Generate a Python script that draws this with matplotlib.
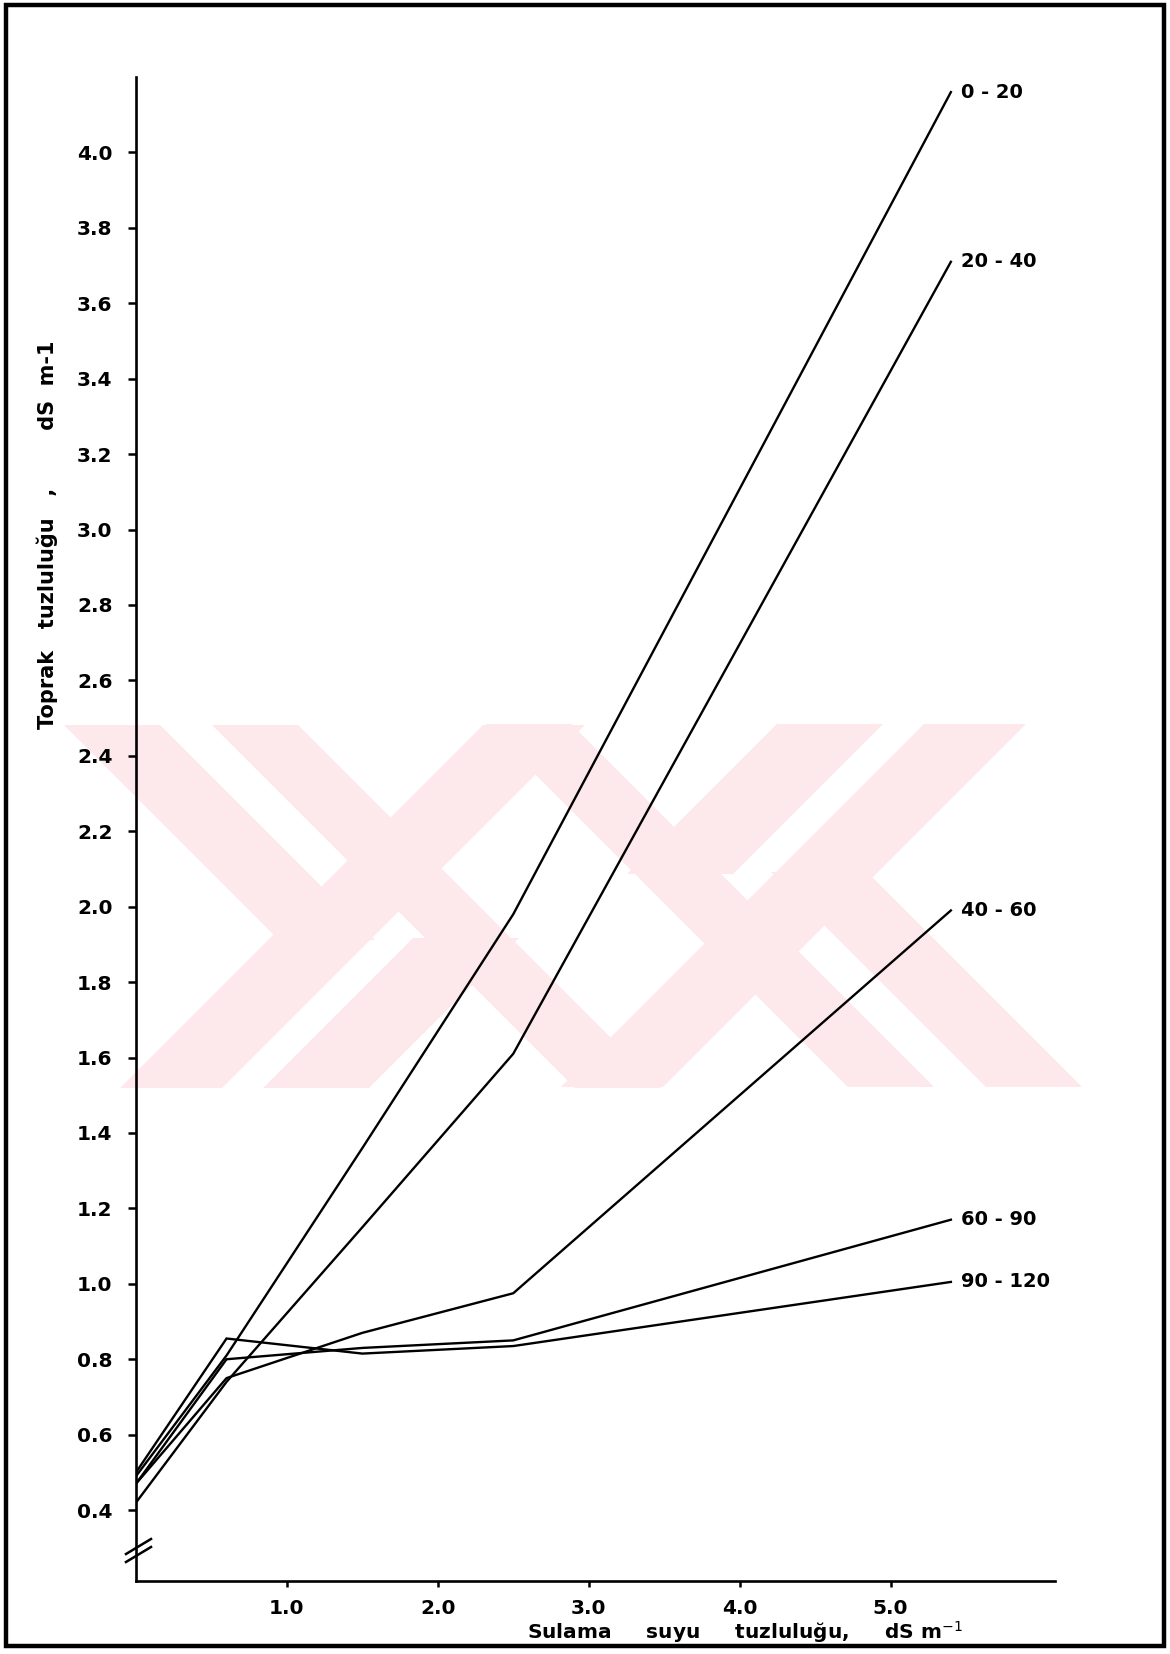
import numpy as np
import matplotlib
matplotlib.use("Agg")
import matplotlib.pyplot as plt
from matplotlib.patches import Polygon, Rectangle

# irrigation water salinity (dS/m) and soil salinity per depth (cm)
x = [0, 0.6, 1.5, 2.5, 5.4]
d0_20 = [0.49, 0.81, 1.36, 1.98, 4.16]
d20_40 = [0.42, 0.74, 1.15, 1.61, 3.71]
d40_60 = [0.47, 0.75, 0.87, 0.975, 1.99]
d60_90 = [0.47, 0.80, 0.83, 0.85, 1.17]
d90_120 = [0.50, 0.855, 0.815, 0.835, 1.005]
series = [d0_20, d20_40, d40_60, d60_90, d90_120]
names = ["0 - 20", "20 - 40", "40 - 60", "60 - 90", "90 - 120"]

yticks = [0.4, 0.6, 0.8, 1.0, 1.2, 1.4, 1.6, 1.8, 2.0, 2.2, 2.4,
          2.6, 2.8, 3.0, 3.2, 3.4, 3.6, 3.8, 4.0]
xticks = [1, 2, 3, 4, 5]
xticklabels = ["1.0", "2.0", "3.0", "4.0", "5.0"]

W, H = 1170, 1654
fig = plt.figure(figsize=(W / 100, H / 100), dpi=100)

# background layer in pixel coords: page frame, watermark, axis break
bg = fig.add_axes([0, 0, 1, 1], zorder=0)
bg.set_xlim(0, W)
bg.set_ylim(H, 0)
bg.axis("off")

pink = "#fde8ec"
top, bot = 725, 1088
left_half = [
    [(483, top), (585, top), (222, bot), (120, bot)],
    [(212, top), (298, top), (661, bot), (575, bot)],
    [(64, top), (160, top), (375, 940), (279, 940)],
    [(263, bot), (369, bot), (519, 938), (413, 938)],
]
for poly in left_half:
    bg.add_patch(Polygon(poly, closed=True, color=pink, lw=0))
    rot = [(1146 - px, 1812 - py) for px, py in poly]
    bg.add_patch(Polygon(rot, closed=True, color=pink, lw=0))

bg.add_patch(Rectangle((6, 5), 1158, 1641, fill=False, lw=3.2, ec="black"))
bg.plot([126, 151], [1562, 1547], color="black", lw=1.8)
bg.plot([126, 151], [1554, 1539], color="black", lw=1.8)

ax = fig.add_axes([136 / W, 1 - 1581 / H, 919 / W, 1504 / H], zorder=1)
ax.patch.set_alpha(0)

for vals, name in zip(series, names):
    ax.plot(x, vals, color="black", lw=1.7, solid_joinstyle="miter")
    ax.annotate(name, xy=(x[-1], vals[-1]), xytext=(7, 0), textcoords="offset points",
                ha="left", va="center", fontsize=14, fontweight="bold")

ax.set_xlim(0, 6.09)
ax.set_ylim(0.212, 4.2)
ax.spines["top"].set_visible(False)
ax.spines["right"].set_visible(False)
ax.spines["left"].set_linewidth(1.9)
ax.spines["bottom"].set_linewidth(1.9)

ax.set_yticks(yticks)
ax.set_yticklabels([f"{v:.1f}" for v in yticks])
ax.set_xticks(xticks)
ax.set_xticklabels(xticklabels)
ax.tick_params(axis="y", direction="out", length=6, width=1.8, pad=11, labelsize=14.5)
ax.tick_params(axis="x", direction="out", length=4, width=1.8, pad=9, labelsize=14.5)
for lab in ax.get_xticklabels() + ax.get_yticklabels():
    lab.set_fontweight("bold")

fig.text(47 / W, 1 - 535 / H, "Toprak   tuzluluğu   ,        dS  m-1", rotation=90,
         ha="center", va="center", fontsize=15, fontweight="bold")
fig.text(527 / W, 1 - 1632 / H, "Sulama     suyu     tuzluluğu,     dS m$^{-1}$",
         ha="left", va="center", fontsize=14.5, fontweight="bold")

fig.savefig("out.png", dpi=100)
